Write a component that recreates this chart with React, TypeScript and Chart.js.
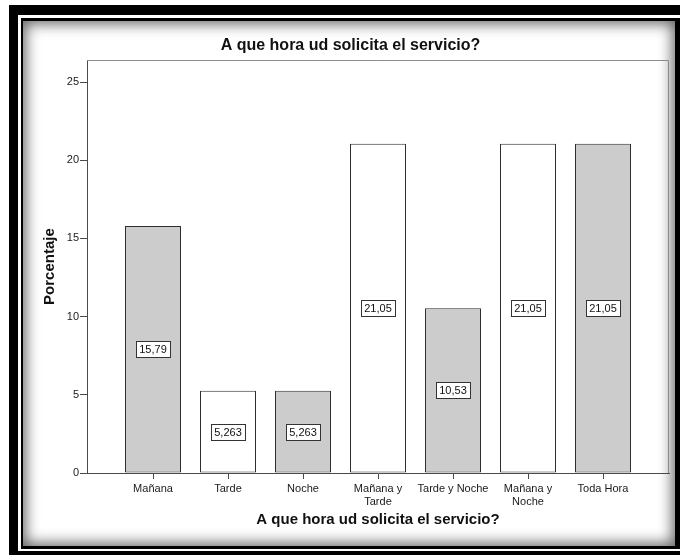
import React, { useEffect, useRef } from "react";
import { Chart, registerables } from "chart.js";

Chart.register(...registerables);

// ---- data ----
const categories = ["Mañana", "Tarde", "Noche", "Mañana y Tarde", "Tarde y Noche", "Mañana y Noche", "Toda Hora"];
const tickLabelLines = [["Mañana"], ["Tarde"], ["Noche"], ["Mañana y", "Tarde"], ["Tarde y Noche"], ["Mañana y", "Noche"], ["Toda Hora"]];
const percentages = [15.79, 5.263, 5.263, 21.05, 10.53, 21.05, 21.05];
const valueLabels = ["15,79", "5,263", "5,263", "21,05", "10,53", "21,05", "21,05"];
const yTickValues = [0, 5, 10, 15, 20, 25];
const yMax = 26.4;
const chartTitle = "A que hora ud solicita el servicio?";
const xTitle = "A que hora ud solicita el servicio?";
const yTitle = "Porcentaje";

const FONT = "'Liberation Sans', Arial, sans-serif";
const GRAY_FILL = "#cccccc";
const WHITE_FILL = "#ffffff";
const BAR_BORDER = "#2e2e2e";
const AXIS_COLOR = "#4a4a4a";
const FRAME_COLOR = "#8c8c8c";

const framePlugin = {
  id: "plotFrame",
  beforeDatasetsDraw(chart: any) {
    const { ctx, chartArea } = chart;
    ctx.save();
    ctx.strokeStyle = FRAME_COLOR;
    ctx.lineWidth = 1;
    const t = Math.round(chartArea.top) + 0.5;
    const r = Math.round(chartArea.right) - 0.5;
    const b = Math.round(chartArea.bottom);
    ctx.beginPath();
    ctx.moveTo(Math.round(chartArea.left), t);
    ctx.lineTo(r, t);
    ctx.lineTo(r, b);
    ctx.stroke();
    ctx.restore();
  },
};

const labelPlugin = {
  id: "valueBoxes",
  afterDatasetsDraw(chart: any) {
    const { ctx } = chart;
    const meta = chart.getDatasetMeta(0);
    ctx.save();
    ctx.font = `11px ${FONT}`;
    ctx.textAlign = "center";
    ctx.textBaseline = "middle";
    meta.data.forEach((bar: any, i: number) => {
      const { x, y, base } = bar.getProps(["x", "y", "base"], true);
      const cy = (y + base) / 2;
      const text = valueLabels[i];
      const tw = ctx.measureText(text).width;
      const w = Math.round(tw + 6);
      const h = 16;
      const left = Math.round(x - w / 2) + 0.5;
      const top = Math.round(cy - h / 2) + 0.5;
      ctx.fillStyle = "#ffffff";
      ctx.fillRect(left, top, w, h);
      ctx.strokeStyle = "#333333";
      ctx.lineWidth = 1;
      ctx.strokeRect(left, top, w, h);
      ctx.fillStyle = "#111111";
      ctx.fillText(text, x, top + h / 2 + 0.5);
    });
    ctx.restore();
  },
};

function ChartView() {
  const canvasRef = useRef<HTMLCanvasElement | null>(null);

  useEffect(() => {
    if (!canvasRef.current) return;
    const chart = new Chart(canvasRef.current, {
      type: "bar",
      data: {
        datasets: [
          {
            label: yTitle,
            data: percentages.map((v, i) => ({ x: i, y: v })),
            backgroundColor: percentages.map((_, i) => (i % 2 === 0 ? GRAY_FILL : WHITE_FILL)),
            borderColor: BAR_BORDER,
            borderWidth: 1,
            borderSkipped: false,
            categoryPercentage: 1,
            barPercentage: 56 / 75,
          },
        ],
      },
      options: {
        animation: false,
        responsive: false,
        maintainAspectRatio: false,
        devicePixelRatio: 1,
        layout: { padding: { left: 32, right: 11, top: 0, bottom: 0 } },
        plugins: {
          legend: { display: false },
          tooltip: { enabled: false },
          title: {
            display: true,
            text: chartTitle,
            color: "#111111",
            font: { family: FONT, size: 16, weight: "bold", lineHeight: 1.2 },
            padding: { top: 36, bottom: 5 },
          },
        },
        scales: {
          x: {
            type: "linear",
            offset: false,
            bounds: "data",
            min: -0.88,
            max: 6.88,
            afterBuildTicks: (scale: any) => {
              scale.ticks = categories.map((_, i) => ({ value: i }));
            },
            afterFit: (scale: any) => {
              scale.height = 82;
            },
            ticks: {
              autoSkip: false,
              maxRotation: 0,
              padding: 3,
              color: "#1a1a1a",
              font: { family: FONT, size: 11, lineHeight: 1.2 },
              callback: (value: any) => tickLabelLines[Math.round(Number(value))] || "",
            },
            grid: { offset: false, drawOnChartArea: false, drawTicks: true, tickLength: 6, color: AXIS_COLOR },
            border: { display: true, color: AXIS_COLOR, width: 1 },
            title: {
              display: true,
              text: xTitle,
              color: "#111111",
              font: { family: FONT, size: 15, weight: "bold", lineHeight: 1.2 },
              padding: { top: 0, bottom: 26 },
            },
          },
          y: {
            type: "linear",
            min: 0,
            max: yMax,
            afterBuildTicks: (scale: any) => {
              scale.ticks = yTickValues.map((v) => ({ value: v }));
            },
            afterFit: (scale: any) => {
              scale.width = 55;
            },
            ticks: {
              padding: 1,
              color: "#1a1a1a",
              font: { family: FONT, size: 11 },
            },
            grid: { drawOnChartArea: false, drawTicks: true, tickLength: 7, color: AXIS_COLOR },
            border: { display: true, color: AXIS_COLOR, width: 1 },
            title: {
              display: true,
              text: yTitle,
              color: "#111111",
              font: { family: FONT, size: 15, weight: "bold", lineHeight: 1.2 },
              padding: { top: 9, bottom: 0 },
            },
          },
        },
      } as any,
      plugins: [framePlugin, labelPlugin],
    });
    return () => chart.destroy();
  }, []);

  return (
    <canvas
      ref={canvasRef}
      width={680}
      height={555}
      style={{ position: "absolute", left: 0, top: 0, width: 680, height: 555 }}
    />
  );
}

export default function App() {
  return (
    <div
      style={{
        position: "fixed",
        left: 0,
        top: 0,
        width: 680,
        height: 555,
        overflow: "hidden",
        background: "#ffffff",
      }}
    >
      <div style={{ position: "absolute", left: 9, top: 5, width: 700, height: 600, background: "#000" }} />
      <div style={{ position: "absolute", left: 18, top: 15, width: 662, height: 536, background: "#fff" }} />
      <div style={{ position: "absolute", left: 21, top: 18, width: 680, height: 531, background: "#000" }} />
      <div
        style={{
          position: "absolute",
          left: 23,
          top: 21,
          width: 652,
          height: 525,
          background: "#fff",
          boxShadow: "inset 0 0 14px 3px rgba(0,0,0,0.6)",
        }}
      />
      <ChartView />
    </div>
  );
}
